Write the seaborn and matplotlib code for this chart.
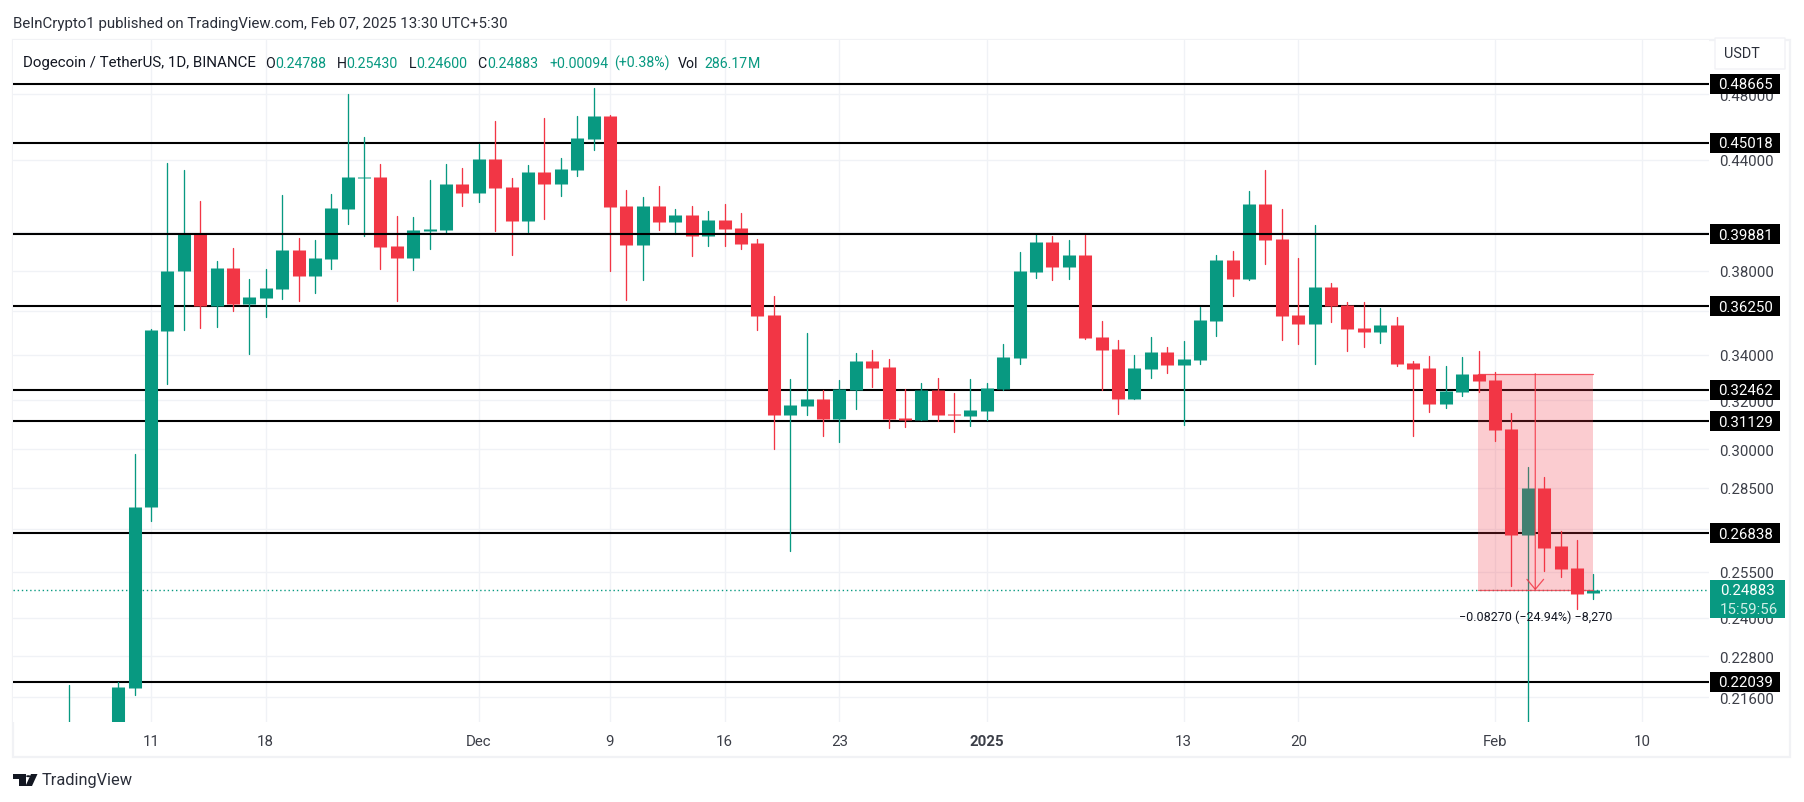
import numpy as np
import pandas as pd
import matplotlib.pyplot as plt
import seaborn as sns
from matplotlib.patches import Rectangle, FancyBboxPatch, Polygon, Circle
from matplotlib.ticker import NullLocator

# daily candles from 2024-11-06
opens = [.2015, .1985, .2000, .2020, .2187, .2777, .3509, .3796, .3988, .3624, .3814, .3637, .3666, .3710, .3906,
         .3774, .3860, .4124, .4297, .4303, .3927, .3865, .4006, .4011, .4263, .4212, .4407, .4246, .4059, .4331,
         .4263, .4343, .4525, .4664, .4141, .3932, .4141, .4054, .4092, .3979, .4065, .4022, .3943, .3585, .3140,
         .3177, .3207, .3123, .3245, .3373, .3346, .3127, .3119, .3245, .3144, .3136, .3157, .3250, .3386, .3794,
         .3948, .3820, .3881, .3481, .3427, .3207, .3337, .3413, .3355, .3377, .3556, .3855, .3759, .4152, .3964,
         .3585, .3543, .3720, .3632, .3523, .3505, .3537, .3364, .3341, .3186, .3237, .3315, .3289, .3082, .2679,
         .2851, .2637, .2564, .24788]
highs = [.2196, .2070, .2080, .2205, .2982, .3518, .4383, .4343, .4168, .3850, .3917, .3759, .3809, .4201, .3969,
         .3959, .4207, .4802, .4537, .4377, .4086, .4081, .4286, .4377, .4354, .4495, .4634, .4297, .4371, .4652,
         .4412, .4664, .4841, .4670, .4229, .4190, .4252, .4124, .4141, .4113, .4152, .4103, .3964, .3676, .3293,
         .3500, .3245, .3289, .3409, .3422, .3381, .3250, .3276, .3297, .3233, .3293, .3276, .3449, .3896, .3990,
         .3979, .3959, .3985, .3556, .3468, .3400, .3481, .3436, .3463, .3622, .3881, .3901, .4224, .4343, .4124,
         .3865, .4038, .3739, .3646, .3646, .3618, .3575, .3373, .3395, .3350, .3390, .3417, .3324, .3148, .2931,
         .2892, .2693, .2661, .25430]
lows = [.1950, .1950, .1960, .1980, .2167, .2726, .3272, .3515, .3524, .3529, .3600, .3401, .3576, .3661, .3648,
        .3690, .3809, .4043, .3981, .3809, .3651, .3804, .3912, .3995, .4141, .4163, .4006, .3881, .4000, .4070,
        .4195, .4309, .4459, .3799, .3656, .3754, .4011, .3990, .3875, .3927, .3927, .3912, .3514, .3002, .2622,
        .3140, .3054, .3030, .3165, .3258, .3086, .3090, .3119, .3115, .3070, .3094, .3119, .3245, .3359, .3764,
        .3754, .3759, .3472, .3245, .3144, .3207, .3297, .3319, .3098, .3359, .3486, .3676, .3754, .3835, .3468,
        .3449, .3359, .3551, .3417, .3436, .3454, .3350, .3054, .3152, .3169, .3220, .3237, .3034, .2504, .2000,
        .2554, .2534, .2429, .24600]
closes = [.2065, .2000, .2020, .2190, .2780, .3514, .3799, .3988, .3624, .3814, .3637, .3671, .3715, .3906, .3774,
          .3865, .4130, .4303, .4303, .3922, .3865, .4011, .4017, .4263, .4212, .4407, .4240, .4059, .4331, .4263,
          .4349, .4531, .4664, .4135, .3932, .4141, .4054, .4092, .3979, .4065, .4017, .3937, .3580, .3140, .3182,
          .3207, .3123, .3250, .3373, .3341, .3123, .3119, .3245, .3140, .3140, .3161, .3254, .3390, .3799, .3948,
          .3820, .3881, .3477, .3422, .3207, .3341, .3413, .3355, .3381, .3561, .3855, .3759, .4152, .3959, .3580,
          .3543, .3720, .3627, .3518, .3505, .3537, .3359, .3337, .3186, .3241, .3315, .3284, .3078, .2679, .2848,
          .2633, .2561, .2477, .24883]

levels = [0.48665, 0.45018, 0.39881, 0.36250, 0.32462, 0.31129, 0.26838, 0.22039]
level_labels = ['0.48665', '0.45018', '0.39881', '0.36250', '0.32462', '0.31129', '0.26838', '0.22039']
price_ticks = [.48, .44, .40, .38, .36, .34, .32, .30, .285, .27, .255, .24, .228, .216]
price_tick_labels = ['0.48000', '0.44000', '', '0.38000', '', '0.34000', '0.32000', '0.30000', '0.28500', '',
                     '0.25500', '0.24000', '0.22800', '0.21600']
date_ticks = ['2024-11-11', '2024-11-18', '2024-12-01', '2024-12-09', '2024-12-16', '2024-12-23',
              '2025-01-01', '2025-01-13', '2025-01-20', '2025-02-01', '2025-02-10']
date_tick_labels = ['11', '18', 'Dec', '9', '16', '23', '2025', '13', '20', 'Feb', '10']
last_price = 0.24883
short_top = 0.33153

GREEN = '#089981'
RED = '#F23645'
GRID = '#f0f2f6'
TEXT = '#3c3f48'
FS = 10.85

sns.set_theme(style='white')
plt.rcParams['font.family'] = ['Roboto', 'DejaVu Sans']

W, H = 1804, 803
fig = plt.figure(figsize=(W / 100, H / 100), dpi=100, facecolor='white')
ax = fig.add_axes([13 / W, 1 - 723 / H, (1709 - 13) / W, (723 - 41) / H])


def fx(px):
    return px / W


def fy(py):
    return 1 - py / H


dates = pd.date_range('2024-11-06', periods=len(opens))
start = pd.Timestamp('2024-11-11')
days = (dates - start).days.to_numpy()
candles = pd.DataFrame({'day': days, 'open': opens, 'high': highs, 'low': lows, 'close': closes})
candles['side'] = np.where(candles['close'] >= candles['open'], 'up', 'down')
wicks = candles.melt(id_vars=['day', 'side'], value_vars=['low', 'high'], value_name='price')
bodies = candles.melt(id_vars=['day', 'side'], value_vars=['open', 'close'], value_name='price')

ax.set_yscale('log')
palette = {'up': GREEN, 'down': RED}
sns.lineplot(data=wicks, x='day', y='price', hue='side', units='day', estimator=None, palette=palette,
             linewidth=0.95, legend=False, ax=ax, zorder=2)
sns.lineplot(data=bodies, x='day', y='price', hue='side', units='day', estimator=None, palette=palette,
             linewidth=9.4, solid_capstyle='butt', legend=False, ax=ax, zorder=2.2)

for lv in levels:
    # the 0.39881 line sits on top of the candles
    ax.axhline(lv, color='black', lw=1.5, zorder=2.5 if lv == 0.39881 else 1)
ax.axhline(last_price, color=GREEN, lw=1, ls=(0, (1, 2)), zorder=1.5)

# short position box
x0, x1 = 80.95, 88.0
ax.add_patch(Rectangle((x0, last_price), x1 - x0, short_top - last_price, fc=RED, ec='none', alpha=0.25, zorder=3))
ax.plot([x0, x1], [short_top, short_top], color=RED, lw=0.9, alpha=0.8, zorder=3.1)
ax.plot([x0, x1], [last_price, last_price], color=RED, lw=0.9, alpha=0.8, zorder=3.1)
ax.annotate('', xy=(84.46, last_price), xytext=(84.46, short_top),
            arrowprops=dict(arrowstyle='->,head_length=0.6,head_width=0.5', color=RED, lw=0.9, alpha=0.85,
                            shrinkA=0, shrinkB=0), zorder=3.2)
ax.text(84.5, 0.2404, '\u22120.08270 (\u221224.94%) \u22128,270', ha='center', va='center', fontsize=9,
        color='#131722', zorder=4)

ax.set_xlim(-8.42, 95.06)
ax.set_ylim(0.2090, 0.5158)
ax.set(xlabel='', ylabel='')
ax.yaxis.tick_right()
ax.yaxis.set_minor_locator(NullLocator())
ax.set_yticks(price_ticks)
ax.set_yticklabels(price_tick_labels, ha='right')
ax.set_xticks([(pd.Timestamp(d) - start).days for d in date_ticks])
ax.set_xticklabels(date_tick_labels)
ax.get_xticklabels()[6].set_fontweight('bold')
ax.tick_params(axis='y', length=0, pad=46.5, labelsize=FS, labelcolor=TEXT)
ax.tick_params(axis='x', length=0, pad=9, labelsize=FS, labelcolor=TEXT)
ax.grid(True, color=GRID, lw=1)
ax.set_axisbelow(True)
sns.despine(ax=ax, left=True, bottom=True, right=True, top=True)
for s in ax.spines.values():
    s.set_visible(False)

# chart frame
fig.add_artist(Rectangle((fx(13), fy(758)), (1790 - 13) / W, (758 - 41) / H, transform=fig.transFigure,
                         fc='none', ec='#f1f2f5', lw=1.6, zorder=-1))

# badges on the price scale
fig.canvas.draw()
for lv, lab in zip(levels, level_labels):
    py = ax.transData.transform((0, lv))[1]
    fig.add_artist(Rectangle((1710 / W, (py - 10) / H), 70 / W, 20 / H, transform=fig.transFigure,
                             fc='black', ec='none', zorder=5))
    fig.text(1773 / W, (py - 0.5) / H, lab, color='white', ha='right', va='center', fontsize=FS, zorder=6)

fig.add_artist(Rectangle((1710 / W, fy(619.3)), 75 / W, 38.6 / H, transform=fig.transFigure,
                         fc=GREEN, ec='none', zorder=5))
fig.text(fx(1720), fy(591.5), '0.24883', color='white', ha='left', va='center', fontsize=FS, zorder=6)
fig.text(fx(1720), fy(609.5), '15:59:56', color='#cfeee6', ha='left', va='center', fontsize=FS, zorder=6)

fig.add_artist(FancyBboxPatch((fx(1715), fy(70)), 70 / W, 31 / H, boxstyle='round,pad=0', transform=fig.transFigure,
                              fc='white', ec='#f1f2f5', lw=1, zorder=4))
fig.text(fx(1742), fy(54), 'USDT', color='#2a2e39', ha='center', va='center', fontsize=10.4, zorder=6)

# header texts
fig.text(fx(13), fy(24), 'BeInCrypto1 published on TradingView.com, Feb 07, 2025 13:30 UTC+5:30',
         color='#2a2e39', va='center', fontsize=FS)
fig.text(fx(23), fy(63.5), 'Dogecoin / TetherUS, 1D, BINANCE', color='#131722', va='center', fontsize=FS, zorder=4)
header = [(265, 'O', '#131722'), (275, '0.24788', GREEN), (337, 'H', '#131722'), (346, '0.25430', GREEN),
          (409, 'L', '#131722'), (416, '0.24600', GREEN), (477, 'C', '#131722'), (487, '0.24883', GREEN),
          (549, '+0.00094', GREEN), (614, '(+0.38%)', GREEN), (678, 'Vol', '#131722'), (704, '286.17', GREEN),
          (748, 'M', GREEN)]
for px, s, c in header:
    fig.text(fx(px), fy(63.5), s, color=c, va='center', fontsize=10.2, zorder=4)

# TradingView logo and wordmark
fig.add_artist(Polygon([(fx(13), fy(775)), (fx(25.5), fy(775)), (fx(25.5), fy(787)), (fx(19), fy(787)),
                        (fx(19), fy(779.5)), (fx(13), fy(779.5))], closed=True, transform=fig.transFigure,
                       fc='#131722', ec='none'))
fig.add_artist(Polygon([(fx(31), fy(775)), (fx(37.5), fy(775)), (fx(32), fy(787)), (fx(25.5), fy(787))], closed=True,
                       transform=fig.transFigure, fc='#131722', ec='none'))
fig.add_artist(Circle((fx(28.3), fy(777.2)), 2.2 / W, transform=fig.transFigure, fc='#131722', ec='none'))
fig.text(fx(42), fy(781), 'TradingView', color='#2a2e39', va='center', fontsize=11.8)

fig.savefig('out.png', dpi=100)
